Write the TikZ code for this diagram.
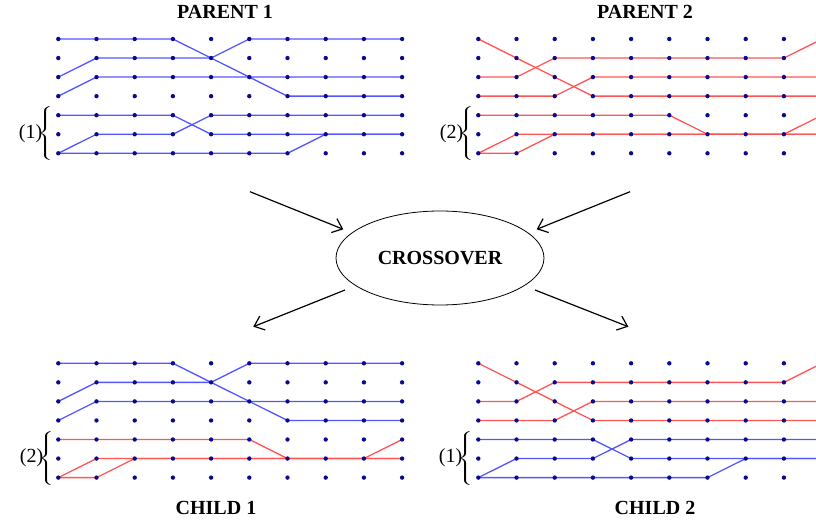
\documentclass[tikz,border=0pt]{standalone}
\usepackage{fontspec}
\setmainfont{Liberation Serif}
\usetikzlibrary{arrows.meta,shapes.geometric}
\definecolor{dotc}{RGB}{10,10,140}
\definecolor{bl}{RGB}{85,85,255}
\definecolor{rd}{RGB}{255,85,85}
\newcommand\mkgrid[3]{%
  \foreach \i in {0,...,9}{\foreach \j in {0,...,6}{%
    \coordinate (#1-\i-\j) at ({#2+38.2*\i},{#3+19.05*\j});}}}
\newcommand\dotsof[1]{%
  \foreach \i in {0,...,9}{\foreach \j in {0,...,6}{%
    \fill[dotc] (#1-\i-\j) circle[radius=2.2pt];}}}
\newcommand\ptopone[2]{%
  \draw[#2] (#1-0-0) -- (#1-3-0) -- (#1-6-3) -- (#1-9-3);
  \draw[#2] (#1-0-2) -- (#1-1-1) -- (#1-4-1) -- (#1-5-0) -- (#1-9-0);
  \draw[#2] (#1-0-3) -- (#1-1-2) -- (#1-9-2);}
\newcommand\pbotone[2]{%
  \draw[#2] (#1-0-4) -- (#1-3-4) -- (#1-4-5) -- (#1-9-5);
  \draw[#2] (#1-0-6) -- (#1-1-5) -- (#1-3-5) -- (#1-4-4) -- (#1-9-4);
  \draw[#2] (#1-0-6) -- (#1-6-6) -- (#1-7-5) -- (#1-9-5);}
\newcommand\ptoptwo[2]{%
  \draw[#2] (#1-0-0) -- (#1-3-3) -- (#1-9-3);
  \draw[#2] (#1-0-2) -- (#1-1-2) -- (#1-2-1) -- (#1-8-1) -- (#1-9-0);
  \draw[#2] (#1-0-3) -- (#1-2-3) -- (#1-3-2) -- (#1-9-2);}
\newcommand\pbottwo[2]{%
  \draw[#2] (#1-0-4) -- (#1-5-4) -- (#1-6-5) -- (#1-8-5) -- (#1-9-4);
  \draw[#2] (#1-0-6) -- (#1-1-5) -- (#1-9-5);
  \draw[#2] (#1-0-6) -- (#1-1-6) -- (#1-2-5) -- (#1-9-5);}
\newcommand\mybrace{\scalebox{1.7}[1]{$\left\{\vrule height 21.5pt depth 21.5pt width 0pt\right.$}}
\begin{document}
\begin{tikzpicture}[x=1pt,y=-1pt,
  blueline/.style={draw=bl,line width=1.3pt,line join=round},
  redline/.style={draw=rd,line width=1.3pt,line join=round},
  title/.style={font=\bfseries\fontsize{20}{24}\selectfont,inner sep=0pt},
  lbl/.style={font=\fontsize{20}{24}\selectfont,inner sep=0pt},
  arr/.style={line width=1.2pt,-{Straight Barb[length=9pt,width=15pt,line width=1.2pt]}}]
\useasboundingbox (0,0) rectangle (816,521);
\clip (0,0) rectangle (816,521);
\mkgrid{pa}{58.3}{39}
\mkgrid{pb}{478.3}{39}
\mkgrid{ca}{58.3}{363.3}
\mkgrid{cb}{478.3}{363.3}
% lines
\ptopone{pa}{blueline}
\pbotone{pa}{blueline}
\ptoptwo{pb}{redline}
\pbottwo{pb}{redline}
\ptopone{ca}{blueline}
\pbottwo{ca}{redline}
\ptoptwo{cb}{redline}
\pbotone{cb}{blueline}
% dots
\dotsof{pa}\dotsof{pb}\dotsof{ca}\dotsof{cb}
% titles
\node[title] (tpa) at (225,12) {PARENT 1};
\node[title] (tpb) at (645,12) {PARENT 2};
\node[title] (tca) at (216,507.5) {CHILD 1};
\node[title] (tcb) at (655,507.5) {CHILD 2};
% labels with braces
\node[lbl,anchor=east] (bpa) at (55,134) {\mybrace};
\node[lbl,anchor=east] (lpa) at ([xshift=5pt]bpa.west) {(1)};
\node[lbl,anchor=east] (bpb) at (476,134) {\mybrace};
\node[lbl,anchor=east] (lpb) at ([xshift=5pt]bpb.west) {(2)};
\node[lbl,anchor=east] (bca) at (56,458) {\mybrace};
\node[lbl,anchor=east] (lca) at ([xshift=5pt]bca.west) {(2)};
\node[lbl,anchor=east] (bcb) at (475,458) {\mybrace};
\node[lbl,anchor=east] (lcb) at ([xshift=5pt]bcb.west) {(1)};
% crossover
\node[ellipse,draw,line width=0.8pt,minimum width=208pt,minimum height=94pt,inner sep=0pt,
  font=\bfseries\fontsize{20}{24}\selectfont] (cx) at (440,258) {CROSSOVER};
\coordinate (a1s) at (250,191.7);
\coordinate (a1e) at (343.3,229.3);
\coordinate (a2s) at (630,191.7);
\coordinate (a2e) at (536.7,229.3);
\coordinate (a3s) at (345,290);
\coordinate (a3e) at (253.3,326.7);
\coordinate (a4s) at (535,290);
\coordinate (a4e) at (628.3,326.7);
\draw[arr] (a1s) -- (a1e);
\draw[arr] (a2s) -- (a2e);
\draw[arr] (a3s) -- (a3e);
\draw[arr] (a4s) -- (a4e);
\end{tikzpicture}
\end{document}
